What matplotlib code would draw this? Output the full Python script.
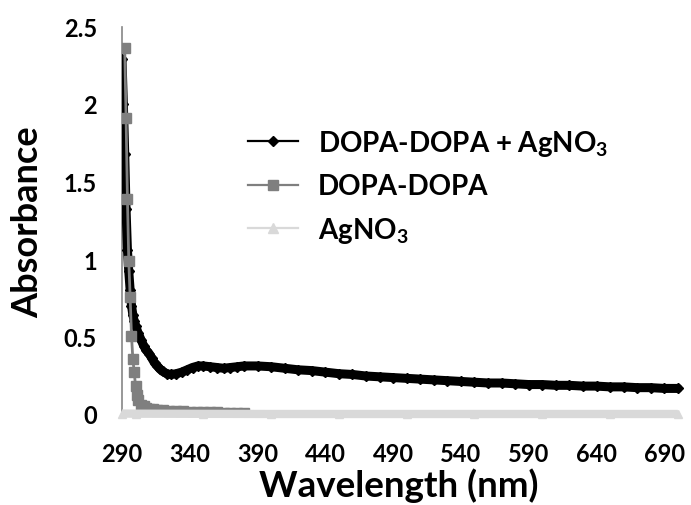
import matplotlib
matplotlib.use("Agg")
import matplotlib.pyplot as plt
from matplotlib.lines import Line2D

# ---------------- data ----------------
wl_mix = [290, 291, 292, 293, 294, 295, 296, 297, 298, 299, 300, 302, 304, 306, 308,
          310, 312, 314, 316, 318, 320, 323, 326, 330, 334, 338, 342, 346, 350, 355,
          360, 365, 370, 375, 380, 390, 400, 410, 420, 430, 440, 450, 460, 470, 480,
          490, 500, 510, 520, 530, 540, 550, 560, 570, 580, 590, 600, 610, 620, 630,
          640, 650, 660, 670, 680, 690, 700]
abs_mix = [2.29, 2.00, 1.68, 1.32, 1.06, 0.92, 0.80, 0.70, 0.64, 0.60, 0.57, 0.52, 0.48, 0.44, 0.41,
           0.39, 0.36, 0.33, 0.31, 0.29, 0.275, 0.26, 0.255, 0.26, 0.27, 0.285, 0.30, 0.31, 0.31, 0.305,
           0.30, 0.295, 0.30, 0.305, 0.31, 0.31, 0.305, 0.295, 0.285, 0.28, 0.27, 0.26, 0.255, 0.245, 0.24,
           0.235, 0.23, 0.225, 0.22, 0.215, 0.21, 0.205, 0.20, 0.20, 0.195, 0.19, 0.19, 0.185, 0.185, 0.18,
           0.18, 0.175, 0.175, 0.17, 0.17, 0.165, 0.165]

wl_dopa = [292, 293, 294, 295, 296, 297, 298, 299, 300, 301, 302, 304, 306, 308, 310,
           313, 316, 320, 325, 330, 335, 340, 345, 350, 355, 360, 365, 370, 375, 380]
abs_dopa = [2.36, 1.91, 1.39, 0.99, 0.755, 0.505, 0.355, 0.27, 0.18, 0.12, 0.09, 0.06, 0.05, 0.04, 0.035,
            0.03, 0.027, 0.025, 0.022, 0.02, 0.018, 0.015, 0.013, 0.012, 0.011, 0.01, 0.009, 0.008, 0.006, 0.005]

wl_ag = [290, 300, 350, 400, 450, 500, 550, 600, 650, 700]
abs_ag = [0.003, 0.002, 0.001, 0.0, 0.0, 0.0, 0.0, 0.0, 0.0, 0.0]

labels = ["DOPA-DOPA + AgNO$_3$", "DOPA-DOPA", "AgNO$_3$"]
xticks = [290, 340, 390, 440, 490, 540, 590, 640, 690]
yticks = [0, 0.5, 1, 1.5, 2, 2.5]
ytick_labels = ["0", "0.5", "1", "1.5", "2", "2.5"]

# ---------------- style ----------------
FONT = "Lato"
plt.rcParams["font.family"] = [FONT, "DejaVu Sans"]
plt.rcParams["font.weight"] = "bold"
plt.rcParams["mathtext.fontset"] = "custom"
plt.rcParams["mathtext.rm"] = FONT + ":bold"
plt.rcParams["mathtext.it"] = FONT + ":bold"
plt.rcParams["mathtext.bf"] = FONT + ":bold"
plt.rcParams["mathtext.default"] = "rm"

c_mix = "#000000"
c_dopa = "#7f7f7f"
c_ag = "#d9d9d9"

W, H = 691, 506
fig = plt.figure(figsize=(W / 100, H / 100), dpi=100)
L, R, T, B = 122, 686, 27.5, 415
ax = fig.add_axes([L / W, 1 - B / H, (R - L) / W, (B - T) / H])

ax.plot(wl_mix, abs_mix, color=c_mix, lw=6.5, marker="D", ms=5, mfc=c_mix, mec=c_mix,
        solid_joinstyle="round", solid_capstyle="round", zorder=3)
ax.plot(wl_dopa, abs_dopa, color=c_dopa, lw=2.0, marker="s", ms=7, mfc=c_dopa, mec=c_dopa,
        zorder=4)
ax.plot(wl_ag, abs_ag, color=c_ag, lw=6.0, marker="^", ms=6, mfc=c_ag, mec=c_ag,
        solid_capstyle="butt", zorder=5, clip_on=False)

ax.set_xlim(290, 706)
ax.set_ylim(0, 2.5)
ax.set_xticks(xticks)
ax.set_xticklabels([str(x) for x in xticks])
ax.set_yticks(yticks)
ax.set_yticklabels(ytick_labels)
ax.tick_params(axis="both", length=0, labelsize=17, colors="#000000")
ax.tick_params(axis="y", pad=18)
ax.tick_params(axis="x", pad=20)
for lab in ax.get_xticklabels() + ax.get_yticklabels():
    lab.set_fontweight("bold")

for s in ["top", "right", "bottom"]:
    ax.spines[s].set_visible(False)
ax.spines["left"].set_color("#868686")
ax.spines["left"].set_linewidth(1.2)
ax.set_facecolor("none")

fig.text(28 / W, 1 - 222 / H, "Absorbance", rotation=90, ha="center", va="center",
         fontsize=26, fontweight="bold")
fig.text(399 / W, 1 - 497 / H, "Wavelength (nm)", ha="center", va="baseline",
         fontsize=26.5, fontweight="bold")

handles = [
    Line2D([], [], color=c_mix, lw=1.6, marker="D", ms=5),
    Line2D([], [], color=c_dopa, lw=1.6, marker="s", ms=7),
    Line2D([], [], color=c_ag, lw=1.6, marker="^", ms=7),
]
fs = 20
fs_px = fs * 100 / 72
leg = fig.legend(handles, labels, loc="upper left", bbox_to_anchor=(248 / W, 1 - 129 / H),
                 frameon=False, borderpad=0, borderaxespad=0, fontsize=fs,
                 handlelength=50 / fs_px, handletextpad=20 / fs_px, labelspacing=0.55,
                 prop={"weight": "bold", "size": fs})

fig.savefig("out.png", dpi=100)
